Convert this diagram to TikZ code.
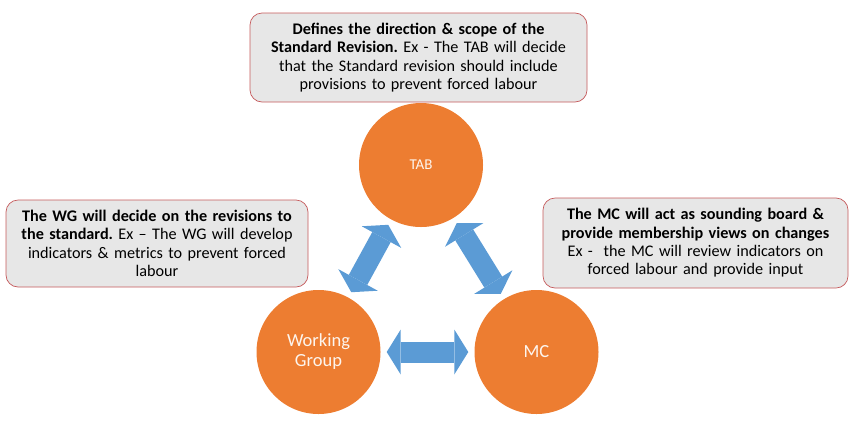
\documentclass[tikz,border=0pt]{standalone}
\usepackage{fontspec}
\setmainfont{Carlito}
\usepackage{tikz}
\usetikzlibrary{arrows.meta,positioning,calc}
\usepackage{xcolor}
\definecolor{bodyorange}{HTML}{ED7D31}
\definecolor{linkblue}{HTML}{5B9BD5}
\definecolor{notegray}{HTML}{E7E7E7}
\definecolor{notered}{HTML}{C55A5C}
\frenchspacing

\tikzset{
    body/.style={circle, fill=bodyorange, minimum size=124pt, inner sep=0pt,
        text=white!92!bodyorange, font=\fontsize{18.5}{20}\selectfont, align=center},
    note/.style={draw=notered, line width=0.7pt, fill=notegray, rounded corners=12pt,
        align=center, inner sep=2pt, font=\fontsize{16.2}{18.3}\selectfont},
    link/.style={draw=linkblue, line width=21pt, shorten <=6pt, shorten >=6pt,
        {Triangle[width=45pt,length=14pt,line width=0pt]}-{Triangle[width=45pt,length=14pt,line width=0pt]}}
}

\begin{document}
\begin{tikzpicture}[x=1pt, y=-1pt]
    \useasboundingbox (0,0) rectangle (850,421);

    % The three bodies
    \node[body, font=\fontsize{15}{18}\selectfont] (tab) at (421,165) {TAB};
    \node[body] (wg) at (318.5,352) {Working\\Group};
    \node[body] (mc) at (536.5,352) {MC};

    % Arrows between bodies
    \draw[link] (wg) -- (tab);
    \draw[link] (tab) -- (mc);
    \draw[link] (wg) -- (mc);

    % Role notes
    \node[note, text width=333pt, minimum height=89pt] (tabnote) at (418.5,57.5)
        {\textbf{Defines the direction \& scope of the}\\
         \textbf{Standard Revision.} Ex - The TAB will decide\\
         that the Standard revision should include\\
         provisions to prevent forced labour};
    \node[note, text width=298pt, minimum height=87pt] (wgnote) at (157,243.5)
        {\textbf{The WG will decide on the revisions to}\\
         \textbf{the standard.} Ex -- The WG will develop\\
         indicators \& metrics to prevent forced\\
         labour};
    \node[note, text width=301pt, minimum height=90pt] (mcnote) at (695.5,243)
        {\textbf{The MC will act as sounding board \&}\\
         \textbf{provide membership views on changes}\\
         Ex -\ \ the MC will review indicators on\\
         forced labour and provide input};
\end{tikzpicture}
\end{document}
